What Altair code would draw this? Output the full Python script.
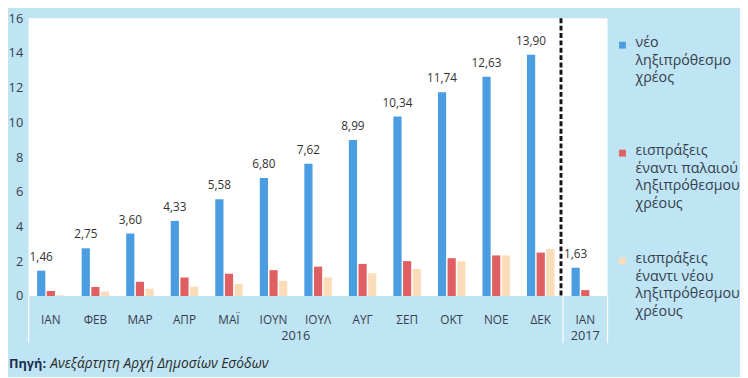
import altair as alt
import pandas as pd

# ---- data ----
months = ["ΙΑΝ", "ΦΕΒ", "ΜΑΡ", "ΑΠΡ", "ΜΑΪ", "ΙΟΥΝ", "ΙΟΥΛ", "ΑΥΓ", "ΣΕΠ", "ΟΚΤ", "ΝΟΕ", "ΔΕΚ", "ΙΑΝ"]
years = ["2016"] * 12 + ["2017"]
new_debt = [1.46, 2.75, 3.60, 4.33, 5.58, 6.80, 7.62, 8.99, 10.34, 11.74, 12.63, 13.90, 1.63]
old_collections = [0.29, 0.52, 0.82, 1.07, 1.28, 1.49, 1.69, 1.85, 2.01, 2.18, 2.34, 2.50, 0.34]
new_collections = [0.04, 0.26, 0.42, 0.54, 0.69, 0.87, 1.08, 1.31, 1.56, 2.00, 2.34, 2.71, 0.0]
series_names = [
    "νέο|ληξιπρόθεσμο|χρέος",
    "εισπράξεις|έναντι παλαιού|ληξιπρόθεσμου|χρέους",
    "εισπράξεις|έναντι νέου|ληξιπρόθεσμου|χρέους",
]
colors = ["#4a9de0", "#df5f63", "#fbdcb8"]
y_ticks = [0, 2, 4, 6, 8, 10, 12, 14, 16]
source_bold = "Πηγή:"
source_text = "Ανεξάρτητη Αρχή Δημοσίων Εσόδων"

keys = [f"{y}|{m}" for y, m in zip(years, months)]
rows = []
for k, a, b, c in zip(keys, new_debt, old_collections, new_collections):
    for s, v in zip(series_names, (a, b, c)):
        rows.append({"key": k, "series": s, "value": v})
df = pd.DataFrame(rows)

W, H = 590, 283
FONT = "Open Sans"
BG = "#bfe4f4"
AXIS_COLOR = "#34404e"

x_scale = alt.Scale(domain=keys, paddingInner=0, paddingOuter=0)
x_axis = alt.Axis(title=None, labelExpr="split(datum.value, '|')[1]", ticks=False,
                  domain=False, labelPadding=19, labelFontSize=12, labelFont=FONT,
                  labelColor=AXIS_COLOR, labelAngle=0)


def xenc(band=0.5):
    return alt.X("key:N", scale=x_scale, axis=x_axis, bandPosition=band)


xoff = alt.XOffset("series:N", scale=alt.Scale(domain=series_names, paddingInner=0.15, paddingOuter=0.885))
y_axis = alt.Axis(title=None, values=y_ticks, grid=False, domain=False, ticks=False,
                  labelOverlap=False, labelPadding=6, labelFontSize=13,
                  labelFont=FONT, labelColor=AXIS_COLOR)
y_enc = alt.Y("value:Q", scale=alt.Scale(domain=[0, 16]), axis=y_axis)

bars = alt.Chart(df).mark_bar().encode(
    x=alt.X("key:N", scale=x_scale, axis=x_axis),
    xOffset=xoff,
    y=y_enc,
    color=alt.Color(
        "series:N",
        scale=alt.Scale(domain=series_names, range=colors),
        legend=alt.Legend(
            title=None, orient="none", legendX=598, legendY=11,
            labelExpr="split(datum.label, '|')", labelFont=FONT, labelFontSize=14.5,
            labelColor=AXIS_COLOR, labelLimit=220, symbolType="M-1,1.6H1V3.6H-1Z",
            symbolSize=49, symbolStrokeWidth=0, labelOffset=6, rowPadding=35,
            gridAlign="all", labelBaseline="top", padding=0,
        ),
    ),
)

labels = alt.Chart(df).transform_filter(
    alt.datum.series == series_names[0]
).transform_calculate(
    lbl="replace(format(datum.value, '.2f'), '.', ',')"
).mark_text(baseline="bottom", dy=-7, fontSize=12, font=FONT, color="#333333").encode(
    x=alt.X("key:N", scale=x_scale, axis=x_axis),
    xOffset=xoff,
    y=y_enc,
    text="lbl:N",
)

divider = alt.Chart(pd.DataFrame({"key": [keys[11]]})).mark_rule(
    strokeDash=[5, 2.5], strokeWidth=3, color="#151515"
).encode(x=xenc(0.955))

sep_left = alt.Chart(pd.DataFrame({"key": [keys[0]]})).mark_rule(color="white", strokeWidth=1.2).encode(
    x=xenc(0), y=alt.value(H), y2=alt.value(H + 48))
sep_right = alt.Chart(pd.DataFrame({"key": [keys[11], keys[12]]})).mark_rule(color="white", strokeWidth=1.2).encode(
    x=xenc(1), y=alt.value(H), y2=alt.value(H + 48))

year16 = alt.Chart(pd.DataFrame({"key": [keys[5]], "year": [years[0]]})).mark_text(
    baseline="middle", fontSize=13, font=FONT, color=AXIS_COLOR).encode(
    x=xenc(1), y=alt.value(H + 41), text="year:N")
year17 = alt.Chart(pd.DataFrame({"key": [keys[12]], "year": [years[12]]})).mark_text(
    baseline="middle", fontSize=13, font=FONT, color=AXIS_COLOR).encode(
    x=xenc(0.5), y=alt.value(H + 41), text="year:N")

src1 = alt.Chart(pd.DataFrame({"t": [source_bold]})).mark_text(
    align="left", baseline="middle", fontSize=13, font=FONT, fontWeight="bold", color="#1c2f4f").encode(
    x=alt.value(-20), y=alt.value(H + 69), text="t:N")
src2 = alt.Chart(pd.DataFrame({"t": [source_text]})).mark_text(
    align="left", baseline="middle", fontSize=14, font=FONT, fontStyle="italic", color="#2a2a2a").encode(
    x=alt.value(22), y=alt.value(H + 69), text="t:N")

chart = alt.layer(bars, labels, divider, sep_left, sep_right, year16, year17, src1, src2).properties(
    width=W, height=H, background=BG,
    padding={"left": 0, "top": 1, "right": 0, "bottom": 3},
).configure(
    style={"guide-label": {"lineHeight": 18}}
).configure_view(fill="white", strokeWidth=0)

chart.save("out.html", embed_options={"renderer": "svg", "actions": False})
